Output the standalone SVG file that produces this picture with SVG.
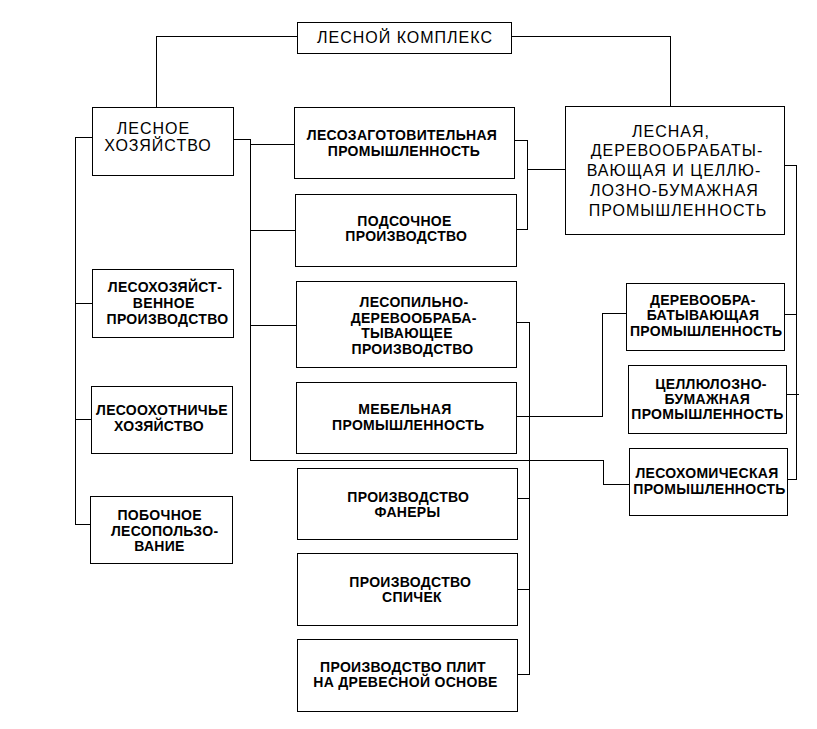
<svg xmlns="http://www.w3.org/2000/svg" width="817" height="729" viewBox="0 0 817 729">
<style>
rect{fill:#fff;stroke:#000;stroke-width:1}
.c{fill:none;stroke:#000;stroke-width:1}
text{font-family:"Liberation Sans",Arial,sans-serif;fill:#000;text-anchor:middle}
.r{font-size:16px;letter-spacing:1px}
.b{font-size:14px;font-weight:bold;letter-spacing:0.3px}
</style>
<rect x="0" y="0" width="817" height="729" style="stroke:none"/>
<g id="connectors" shape-rendering="crispEdges">
<path class="c" d="M297,36.5H156.5V107M512,36.5H670.5V106"/>
<path class="c" d="M75.5,137V524.5M75.5,137.5H92M75.5,303.5H92M75.5,419.5H91M75.5,524.5H90"/>
<path class="c" d="M233,139.5H250.5V460.5M250.5,144.5H294M250.5,230.5H295M250.5,325.5H296M250.5,460.5H603.5V484.5H629"/>
<path class="c" d="M514,140.5H527.5V229.5H516M527.5,169.5H565"/>
<path class="c" d="M784,165.5H796.5V479.5H787M784,314.5H796.5M786,394.5H799"/>
<path class="c" d="M626,313.5H602.5V416.5H516"/>
<path class="c" d="M516,322.5H529.5V674.5H517M517,498.5H529.5M517,589.5H529.5"/>
</g>
<g id="n-top"><rect x="297.5" y="22.5" width="214" height="31"/><text class="r" x="405" y="43.3">ЛЕСНОЙ КОМПЛЕКС</text></g>
<g id="n-lh"><rect x="92.5" y="107.5" width="141" height="68"/><text class="r" x="153.5" y="134">ЛЕСНОЕ</text><text class="r" x="158" y="150.7">ХОЗЯЙСТВО</text></g>
<g id="n-lz"><rect x="294.5" y="107.5" width="220" height="71"/><text class="b" x="402" y="139.5">ЛЕСОЗАГОТОВИТЕЛЬНАЯ</text><text class="b" x="404" y="155.5">ПРОМЫШЛЕННОСТЬ</text></g>
<g id="n-ps"><rect x="295.5" y="194.5" width="221" height="72"/><text class="b" x="404.5" y="225.5">ПОДСОЧНОЕ</text><text class="b" x="406.3" y="241">ПРОИЗВОДСТВО</text></g>
<g id="n-big"><rect x="565.5" y="106.5" width="219" height="128"/>
<text class="r" x="671" y="136.7">ЛЕСНАЯ,</text>
<text class="r" x="677" y="155.7">ДЕРЕВООБРАБАТЫ-</text>
<text class="r" x="674" y="176">ВАЮЩАЯ И ЦЕЛЛЮ-</text>
<text class="r" x="674.5" y="195.5">ЛОЗНО-БУМАЖНАЯ</text>
<text class="r" x="678" y="216">ПРОМЫШЛЕННОСТЬ</text></g>
<g id="n-lhp"><rect x="92.5" y="269.5" width="141" height="68"/><text class="b" x="165" y="292">ЛЕСОХОЗЯЙСТ-</text><text class="b" x="163.7" y="308">ВЕННОЕ</text><text class="b" x="167.5" y="324">ПРОИЗВОДСТВО</text></g>
<g id="n-lp"><rect x="296.5" y="281.5" width="220" height="86"/><text class="b" x="414" y="306.7">ЛЕСОПИЛЬНО-</text><text class="b" x="413.7" y="322.5">ДЕРЕВООБРАБА-</text><text class="b" x="407" y="338">ТЫВАЮЩЕЕ</text><text class="b" x="412.5" y="354">ПРОИЗВОДСТВО</text></g>
<g id="n-dp"><rect x="626.5" y="283.5" width="158" height="67"/><text class="b" x="702.8" y="305">ДЕРЕВООБРА-</text><text class="b" x="703" y="319.7">БАТЫВАЮЩАЯ</text><text class="b" x="706.2" y="335.7">ПРОМЫШЛЕННОСТЬ</text></g>
<g id="n-cb"><rect x="628.5" y="365.5" width="158" height="68"/><text class="b" x="711" y="389">ЦЕЛЛЮЛОЗНО-</text><text class="b" x="707.3" y="404">БУМАЖНАЯ</text><text class="b" x="707.5" y="419.3">ПРОМЫШЛЕННОСТЬ</text></g>
<g id="n-lo"><rect x="91.5" y="386.5" width="141" height="67"/><text class="b" x="162" y="415">ЛЕСООХОТНИЧЬЕ</text><text class="b" x="159" y="431">ХОЗЯЙСТВО</text></g>
<g id="n-mb"><rect x="296.5" y="382.5" width="220" height="71"/><text class="b" x="405" y="414.3">МЕБЕЛЬНАЯ</text><text class="b" x="408.3" y="430">ПРОМЫШЛЕННОСТЬ</text></g>
<g id="n-lc"><rect x="629.5" y="448.5" width="158" height="67"/><text class="b" x="707" y="478.3">ЛЕСОХОМИЧЕСКАЯ</text><text class="b" x="709.5" y="494.3">ПРОМЫШЛЕННОСТЬ</text></g>
<g id="n-fn"><rect x="297.5" y="468.5" width="220" height="71"/><text class="b" x="408.3" y="501.5">ПРОИЗВОДСТВО</text><text class="b" x="407.5" y="516.7">ФАНЕРЫ</text></g>
<g id="n-pb"><rect x="90.5" y="496.5" width="142" height="67"/><text class="b" x="159.7" y="519.5">ПОБОЧНОЕ</text><text class="b" x="164.7" y="535.7">ЛЕСОПОЛЬЗО-</text><text class="b" x="159.5" y="550.5">ВАНИЕ</text></g>
<g id="n-sp"><rect x="297.5" y="553.5" width="220" height="72"/><text class="b" x="410.3" y="586.7">ПРОИЗВОДСТВО</text><text class="b" x="412" y="602.3">СПИЧЕК</text></g>
<g id="n-pl"><rect x="297.5" y="639.5" width="220" height="72"/><text class="b" x="403" y="671.7">ПРОИЗВОДСТВО ПЛИТ</text><text class="b" x="405.5" y="687.3">НА ДРЕВЕСНОЙ ОСНОВЕ</text></g>
</svg>
